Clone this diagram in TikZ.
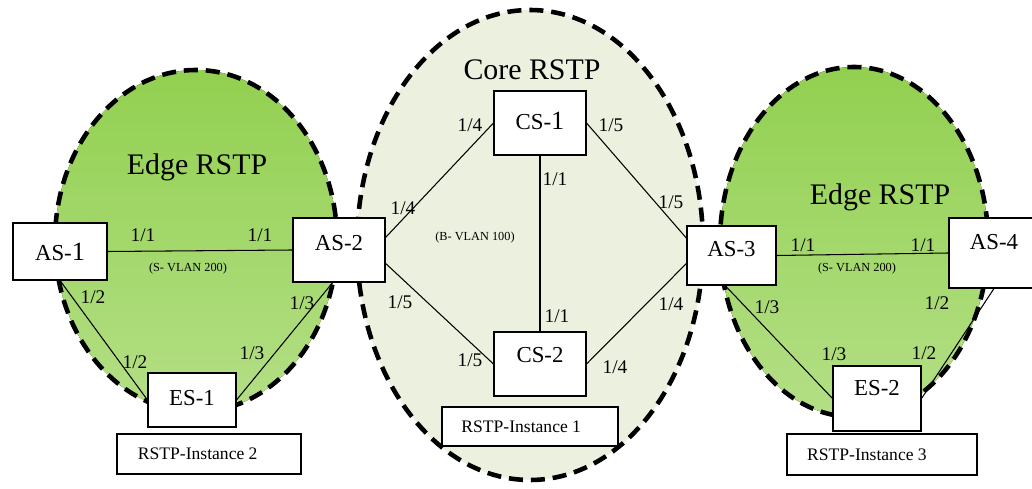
\documentclass[tikz,border=0pt]{standalone}
\usepackage{fontspec}
\setmainfont{Liberation Serif}
\usetikzlibrary{positioning}

\definecolor{edgetop}{RGB}{146,208,80}
\definecolor{edgebot}{RGB}{180,223,134}
\definecolor{corefill}{RGB}{235,241,222}

\begin{document}
\begin{tikzpicture}[
  x=0.02cm, y=-0.02cm,
  region/.style={draw=black, line width=2.6pt, dash pattern=on 8pt off 4.5pt},
  sw/.style={rectangle, draw=black, fill=white, line width=0.6pt, inner sep=0pt,
             font=\fontsize{13}{15}\selectfont},
  inst/.style={rectangle, draw=black, fill=white, line width=0.6pt, inner sep=0pt,
               font=\fontsize{10}{12}\selectfont},
  link/.style={draw=black, line width=0.6pt},
  port/.style={font=\fontsize{11}{13}\selectfont, inner sep=0pt},
  vlan/.style={font=\fontsize{7}{9}\selectfont, inner sep=0pt},
  title/.style={font=\fontsize{17}{20}\selectfont, inner sep=0pt},
]
\useasboundingbox (0,0) rectangle (1032,489);

% the three RSTP regions
\fill[top color=edgetop, bottom color=edgebot] (196,241) ellipse [x radius=141, y radius=171];
\draw[region] (196,241) ellipse [x radius=141, y radius=171];
\fill[corefill] (530,245) ellipse [x radius=173, y radius=235];
\draw[region] (530,245) ellipse [x radius=173, y radius=235];
\fill[top color=edgetop, bottom color=edgebot] (854,242) ellipse [x radius=134, y radius=175];
\draw[region] (854,242) ellipse [x radius=134, y radius=175];

\node[title] (edgeL) at (197,167) {Edge RSTP};
\node[title] (core)  at (532,70)  {Core RSTP};
\node[title] (edgeR) at (880,197) {Edge RSTP};

% switches (text depth lifts the label towards the top of the box)
\node[sw, minimum width=1.88cm, minimum height=1.14cm] (AS-1) at (60,251.5) {AS-\fontsize{15}{15}\selectfont 1};
\node[sw, minimum width=1.84cm, minimum height=1.28cm, text depth=8pt] (AS-2) at (339,250) {AS-2};
\node[sw, minimum width=1.76cm, minimum height=1.08cm, text depth=2pt] (ES-1) at (192,400) {ES-1};
\node[sw, minimum width=1.84cm, minimum height=1.28cm, text depth=3pt] (CS-1) at (540,123) {CS-\fontsize{15}{15}\selectfont 1};
\node[sw, minimum width=1.84cm, minimum height=1.28cm, text depth=10pt] (CS-2) at (540,364) {CS-2};
\node[sw, minimum width=1.78cm, minimum height=1.18cm, text depth=8pt] (AS-3) at (731.5,255.5) {AS-3};
\node[sw, minimum width=1.80cm, minimum height=1.40cm, text depth=12.5pt] (AS-4) at (994,253) {AS-4};
\node[sw, minimum width=1.76cm, minimum height=1.30cm, text depth=11.5pt] (ES-2) at (877,398.5) {ES-2};

% links
\draw[link] (AS-1.east) -- (AS-2.west);
\draw[link] (AS-1.south) -- (ES-1.west);
\draw[link] (ES-1.east) -- (AS-2.259);
\draw[link] (AS-2.15) -- (CS-1.west);
\draw[link] (AS-2.-16) -- (CS-2.west);
\draw[link] (CS-1.south) -- (CS-2.north);
\draw[link] (CS-1.east) -- (AS-3.159);
\draw[link] (CS-2.east) -- (AS-3.190);
\draw[link] (AS-3.east) -- (AS-4.west);
\draw[link] (AS-3.258) -- (ES-2.west);
\draw[link] (ES-2.east) -- (AS-4.south);

% instance tags
\node[inst, minimum width=3.68cm, minimum height=0.80cm] (inst2) at (209,454) {\hspace*{-0.45cm}RSTP-Instance 2};
\node[inst, minimum width=3.52cm, minimum height=0.78cm] (inst1) at (530,426.5) {\hspace*{-0.35cm}RSTP-Instance 1};
\node[inst, minimum width=3.80cm, minimum height=0.82cm] (inst3) at (882,454.5) {\hspace*{-0.6cm}RSTP-Instance 3};

% port numbers
\foreach \px/\py/\pt [count=\i] in {
    143/235/1\slash1, 260/235/1\slash1, 93/297/1\slash2, 135/362/1\slash2,
    302/303/1\slash3, 252/353/1\slash3,
    470/125/1\slash4, 611/125/1\slash5, 555/179/1\slash1, 403/208/1\slash4,
    671/202/1\slash5, 400/302/1\slash5, 557/316/1\slash1, 671/304/1\slash4,
    470/360/1\slash5, 615/367/1\slash4,
    803/245/1\slash1, 923/245/1\slash1, 767/307/1\slash3, 834/354/1\slash3,
    937/303/1\slash2, 924/353/1\slash2}
  \node[port] (port\i) at (\px,\py) {\pt};

\node[vlan] (svlanL) at (188,269) {(S- VLAN 200)};
\node[vlan] (bvlan)  at (475,238) {(B- VLAN 100)};
\node[vlan] (svlanR) at (857,269) {(S- VLAN 200)};

\end{tikzpicture}
\end{document}
